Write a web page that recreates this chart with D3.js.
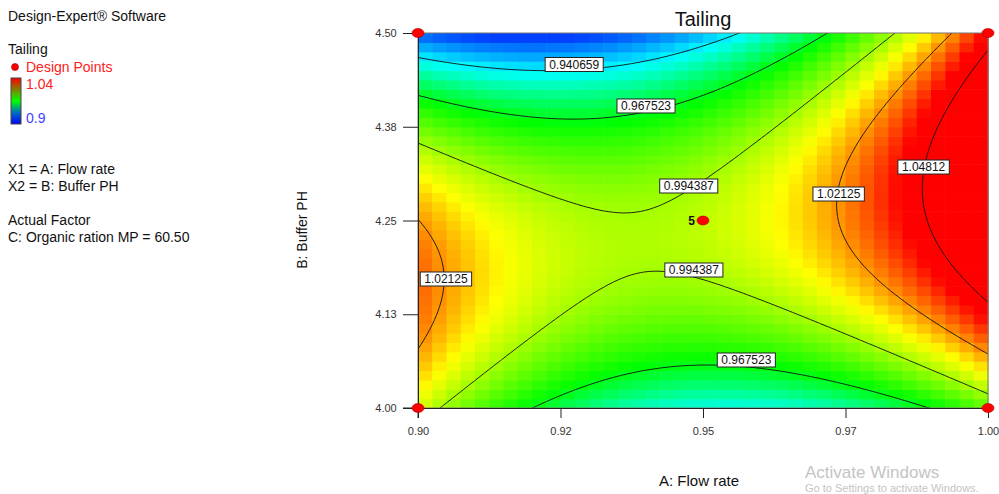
<!DOCTYPE html>
<html>
<head>
<meta charset="utf-8">
<script src="https://cdn.jsdelivr.net/npm/d3@7"></script>
<style>
  body { margin: 0; background: #fff; }
  svg { display: block; font-family: "Liberation Sans", Arial, sans-serif; }
</style>
</head>
<body>
<div id="chart"></div>
<script>
// Tailing contour plot (Design-Expert style), A: Flow rate vs B: Buffer PH

// fitted quadratic in coded units: [b0, A, B, AB, A^2, B^2]
const coefs = [0.9984, 0.0252, -0.0062, 0.0346, 0.0483, -0.060];
const flowRange = [0.90, 1.00];
const phRange = [4.00, 4.50];

const xTicks = [0.90, 0.925, 0.95, 0.975, 1.00];
const xTickLabels = ["0.90", "0.92", "0.95", "0.97", "1.00"];
const yTicks = [4.00, 4.125, 4.25, 4.375, 4.50];
const yTickLabels = ["4.00", "4.13", "4.25", "4.38", "4.50"];

const levels = [0.940659, 0.967523, 0.994387, 1.02125, 1.04812];

// contour labels: level, flow rate, pH where the label sits
const labelLevels = [0.940659, 0.967523, 0.994387, 0.994387, 1.02125, 1.02125, 1.04812, 0.967523];
const labelFlow   = [0.9274, 0.9400, 0.9475, 0.9484, 0.9049, 0.9738, 0.9887, 0.9576];
const labelPh     = [4.458, 4.4027, 4.296, 4.184, 4.172, 4.2853, 4.3213, 4.064];

// design points
const dpFlow = [0.90, 0.90, 1.00, 1.00, 0.95];
const dpPh   = [4.00, 4.50, 4.00, 4.50, 4.25];
const dpCount = [1, 1, 1, 1, 5];

const colorStops = [0.918, 0.942, 0.97, 1.008, 1.04];
const colorRange = ["#0040ff", "#00ffff", "#00ff00", "#ffff00", "#ff0000"];

const W = 999, H = 494;
const svg = d3.select("#chart").append("svg").attr("width", W).attr("height", H);

const plot = { x0: 418, x1: 988, y0: 33, y1: 408 };
const x = d3.scaleLinear().domain(flowRange).range([plot.x0, plot.x1]);
const y = d3.scaleLinear().domain(phRange).range([plot.y1, plot.y0]);
const color = d3.scaleLinear().domain(colorStops).range(colorRange).clamp(true);

const toCodedA = a => (a - 0.95) / 0.05;
const toCodedB = b => (b - 4.25) / 0.25;
function tailing(a, b) {
  const p = toCodedA(a), q = toCodedB(b);
  return coefs[0] + coefs[1] * p + coefs[2] * q + coefs[3] * p * q + coefs[4] * p * p + coefs[5] * q * q;
}

svg.append("defs").append("clipPath").attr("id", "clip")
  .append("rect").attr("x", plot.x0).attr("y", plot.y0)
  .attr("width", plot.x1 - plot.x0).attr("height", plot.y1 - plot.y0);

// pixelated heat map
const NC = 40, NR = 40;
const cells = [];
for (let j = 0; j < NR; j++) {
  for (let i = 0; i < NC; i++) {
    const a0 = flowRange[0] + (flowRange[1] - flowRange[0]) * i / NC;
    const a1 = flowRange[0] + (flowRange[1] - flowRange[0]) * (i + 1) / NC;
    const b0 = phRange[0] + (phRange[1] - phRange[0]) * j / NR;
    const b1 = phRange[0] + (phRange[1] - phRange[0]) * (j + 1) / NR;
    cells.push({ a0, a1, b0, b1, v: tailing((a0 + a1) / 2, (b0 + b1) / 2) });
  }
}
svg.append("g").selectAll("rect").data(cells).join("rect")
  .attr("x", d => x(d.a0))
  .attr("y", d => y(d.b1))
  .attr("width", d => x(d.a1) - x(d.a0) + 0.6)
  .attr("height", d => y(d.b0) - y(d.b1) + 0.6)
  .attr("fill", d => color(d.v));

// contour lines on a padded fine grid, clipped to the plot
const gn = 141, gm = 101, pad = 0.05;
const gA = [flowRange[0] - pad * 0.1, flowRange[1] + pad * 0.1];
const gB = [phRange[0] - pad * 0.5, phRange[1] + pad * 0.5];
const stepA = (gA[1] - gA[0]) / (gn - 1);
const stepB = (gB[1] - gB[0]) / (gm - 1);
const grid = new Array(gn * gm);
for (let j = 0; j < gm; j++) {
  for (let i = 0; i < gn; i++) {
    grid[j * gn + i] = tailing(gA[0] + i * stepA, gB[0] + j * stepB);
  }
}
const contours = d3.contours().size([gn, gm]).thresholds(levels)(grid);
const proj = d3.geoTransform({
  point: function (cx, cy) {
    this.stream.point(x(gA[0] + (cx - 0.5) * stepA), y(gB[0] + (cy - 0.5) * stepB));
  }
});
svg.append("g").attr("clip-path", "url(#clip)")
  .selectAll("path").data(contours).join("path")
  .attr("d", d3.geoPath(proj))
  .attr("fill", "none")
  .attr("stroke", "#111")
  .attr("stroke-width", 0.9);

// frame
svg.append("rect")
  .attr("x", plot.x0).attr("y", plot.y0)
  .attr("width", plot.x1 - plot.x0).attr("height", plot.y1 - plot.y0)
  .attr("fill", "none").attr("stroke", "#777").attr("stroke-width", 1);

// axes
const gx = svg.append("g").attr("transform", `translate(0,${plot.y1})`)
  .call(d3.axisBottom(x).tickValues(xTicks).tickSize(10).tickSizeOuter(0)
    .tickFormat((d, i) => xTickLabels[i]));
const gy = svg.append("g").attr("transform", `translate(${plot.x0},0)`)
  .call(d3.axisLeft(y).tickValues(yTicks).tickSize(15).tickSizeOuter(0)
    .tickFormat((d, i) => yTickLabels[i]));
[gx, gy].forEach(g => {
  g.select(".domain").attr("stroke", "#222");
  g.selectAll(".tick line").attr("stroke", "#222");
  g.selectAll(".tick text").attr("font-size", 11).attr("fill", "#333")
    .attr("font-family", "Liberation Sans, Arial, sans-serif");
});
gx.selectAll(".tick text").attr("dy", "1.25em");
gy.selectAll(".tick text").attr("dx", "-0.3em");
// extend axis lines a bit like the original
gx.append("line").attr("x1", plot.x0 - 15).attr("x2", plot.x0).attr("stroke", "#222");
gy.append("line").attr("y1", plot.y1).attr("y2", plot.y1 + 10).attr("stroke", "#222");

// contour labels
const lab = svg.append("g");
labelLevels.forEach((lv, i) => {
  const g = lab.append("g").attr("transform", `translate(${x(labelFlow[i])},${y(labelPh[i])})`);
  const t = g.append("text").attr("text-anchor", "middle").attr("dy", "0.36em")
    .attr("font-size", 12).attr("fill", "#111").text(String(lv));
  const w = t.node().getComputedTextLength() + 8;
  g.insert("rect", "text").attr("x", -w / 2).attr("y", -7).attr("width", w).attr("height", 14)
    .attr("fill", "#fff").attr("stroke", "#222").attr("stroke-width", 1);
});

// design points
dpFlow.forEach((a, i) => {
  svg.append("ellipse").attr("cx", x(a)).attr("cy", y(dpPh[i])).attr("rx", 6).attr("ry", 4.5)
    .attr("fill", "#ff0000").attr("stroke", "#b00000").attr("stroke-width", 0.6);
  if (dpCount[i] > 1) {
    svg.append("text").attr("x", x(a) - 8).attr("y", y(dpPh[i]) + 4)
      .attr("text-anchor", "end").attr("font-size", 12).attr("font-weight", "bold")
      .attr("fill", "#111").text(dpCount[i]);
  }
});

// titles
svg.append("text").attr("x", 703).attr("y", 26).attr("text-anchor", "middle")
  .attr("font-size", 20).attr("fill", "#111").text("Tailing");
svg.append("text").attr("x", 699).attr("y", 486).attr("text-anchor", "middle")
  .attr("font-size", 15).attr("fill", "#111").text("A: Flow rate");
svg.append("text").attr("transform", "translate(307,230) rotate(-90)")
  .attr("text-anchor", "middle").attr("font-size", 14).attr("fill", "#111").text("B: Buffer PH");

// left info panel
const info = [
  ["Design-Expert® Software", 21],
  ["Tailing", 54],
  ["X1 = A: Flow rate", 174],
  ["X2 = B: Buffer PH", 191],
  ["Actual Factor", 225],
  ["C: Organic ration MP = 60.50", 242]
];
info.forEach(([t, yy]) => {
  svg.append("text").attr("x", 8).attr("y", yy).attr("font-size", 14).attr("fill", "#111").text(t);
});
svg.append("circle").attr("cx", 15).attr("cy", 67).attr("r", 3.5)
  .attr("fill", "#ff0000").attr("stroke", "#800").attr("stroke-width", 0.6);
svg.append("text").attr("x", 26).attr("y", 72).attr("font-size", 14).attr("fill", "#ff2020").text("Design Points");

const grad = svg.select("defs").append("linearGradient").attr("id", "lg")
  .attr("x1", 0).attr("y1", 1).attr("x2", 0).attr("y2", 0);
[["0%", "#0000ff"], ["25%", "#0070c0"], ["50%", "#00ff00"], ["75%", "#808000"], ["100%", "#ff0000"]]
  .forEach(([o, c]) => grad.append("stop").attr("offset", o).attr("stop-color", c));
svg.append("rect").attr("x", 11).attr("y", 78).attr("width", 10).attr("height", 46)
  .attr("fill", "url(#lg)").attr("stroke", "#444").attr("stroke-width", 1);
svg.append("text").attr("x", 26).attr("y", 89).attr("font-size", 14).attr("fill", "#ff2020").text("1.04");
svg.append("text").attr("x", 26).attr("y", 123).attr("font-size", 14).attr("fill", "#4040ff").text("0.9");

// screenshot watermark
svg.append("text").attr("x", 805).attr("y", 478).attr("font-size", 17).attr("fill", "#c4c4c4").text("Activate Windows");
svg.append("text").attr("x", 805).attr("y", 492).attr("font-size", 11).attr("fill", "#c4c4c4").text("Go to Settings to activate Windows.");
</script>
</body>
</html>
